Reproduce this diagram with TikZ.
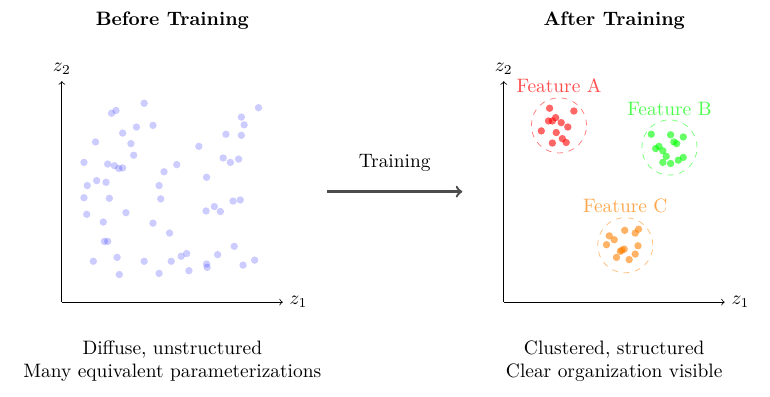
\documentclass[tikz,border=0pt]{standalone}
\usepackage{amsmath}
\usepackage{tikz}
\usetikzlibrary{arrows,positioning}

\begin{document}
\begin{tikzpicture}[
		axis/.style={->, thin},
		dot/.style={circle, inner sep=0pt, minimum size=3.8pt, fill opacity=0.6},
		ring/.style={dashed, thin, draw opacity=0.5},
		flabel/.style={font=\normalsize}
	]
		\useasboundingbox (-1.12,-1.70) rectangle (12.82,5.47);
		% titles
		\node[font=\bfseries] (tb) at (2,5.1) {Before Training};
		\node[font=\bfseries] (ta) at (10,5.1) {After Training};
		% left axes
		\coordinate (o1) at (0,0);
		\coordinate (x1) at (4,0);
		\coordinate (y1) at (0,4);
		\draw[axis] (o1) -- (x1) node[right] {$z_1$};
		\draw[axis] (o1) -- (y1) node[above] {$z_2$};
		\foreach \x/\y in {1.49/3.60, 0.90/3.42, 0.98/3.47, 3.56/3.52, 3.25/3.35, 3.30/3.21,
			1.65/3.20, 1.35/3.17, 1.10/3.06, 2.97/3.04, 3.25/3.02, 0.61/2.90, 1.25/2.87,
			2.48/2.82, 1.30/2.66, 2.92/2.61, 3.05/2.53, 3.20/2.59, 0.40/2.53, 0.83/2.50,
			0.95/2.47, 1.03/2.42, 1.10/2.43, 2.08/2.49, 1.85/2.36, 2.62/2.26, 0.63/2.20,
			0.80/2.17, 0.46/2.11, 1.76/2.11, 0.40/1.89, 0.86/1.88, 1.79/1.87, 3.10/1.83,
			3.23/1.85, 2.76/1.73, 2.61/1.65, 2.87/1.64, 1.16/1.62, 0.45/1.59, 0.75/1.45,
			1.65/1.43, 1.95/1.25, 0.77/1.10, 0.83/1.10, 3.12/1.01, 0.57/0.74, 1.00/0.81,
			1.49/0.74, 1.98/0.74, 2.16/0.83, 2.26/0.88, 2.82/0.86, 2.62/0.69, 2.63/0.63,
			3.28/0.67, 3.49/0.76, 1.04/0.50, 1.76/0.52, 2.30/0.57}
			\node[dot, fill=blue, fill opacity=0.2] at (\x,\y) {};
		\node[align=center] (cl) at (2,-1.07) {Diffuse, unstructured\\Many equivalent parameterizations};
		% arrow
		\coordinate (as) at (4.8,2);
		\coordinate (ae) at (7.25,2);
		\draw[->, very thick, black!70] (as) -- (ae) node[midway, above=0.22cm, black] {Training};
		% right axes
		\begin{scope}[shift={(8,0)}]
			\coordinate (o2) at (0,0);
			\coordinate (x2) at (4,0);
			\coordinate (y2) at (0,4);
			\draw[axis] (o2) -- (x2) node[right] {$z_1$};
			\draw[axis] (o2) -- (y2) node[above] {$z_2$};
			% feature A
			\draw[ring, red] (1,3.2) circle (0.5);
			\node[red!70] (fa) at (1,3.92) {Feature A};
			\foreach \x/\y in {0.83/3.51, 1.27/3.46, 0.81/3.28, 0.88/3.28, 0.94/3.34, 1.04/3.25,
				1.16/3.17, 0.68/3.10, 0.95/3.07, 1.06/2.96, 1.13/2.89, 0.88/2.88}
				\node[dot, fill=red] at (\x,\y) {};
			% feature B
			\draw[ring, green] (3,2.8) circle (0.5);
			\node[green!70] (fb) at (3,3.5) {Feature B};
			\foreach \x/\y in {2.67/3.04, 3.02/3.03, 3.25/2.99, 3.08/2.90, 3.13/2.87, 2.75/2.78,
				2.81/2.82, 2.88/2.74, 2.94/2.64, 3.25/2.62, 3.16/2.57, 2.88/2.53, 3.02/2.51}
				\node[dot, fill=green] at (\x,\y) {};
			% feature C
			\draw[ring, orange] (2.2,1.03) circle (0.5);
			\node[orange!70] (fc) at (2.2,1.74) {Feature C};
			\foreach \x/\y in {2.19/1.30, 2.44/1.32, 2.38/1.25, 1.91/1.20, 2.00/1.13, 1.86/1.04,
				2.43/1.02, 2.18/0.96, 2.14/0.94, 2.11/0.92, 2.38/0.87, 2.04/0.81, 2.27/0.77}
				\node[dot, fill=orange] at (\x,\y) {};
			\node[align=center] (cr) at (2,-1.07) {Clustered, structured\\Clear organization visible};
		\end{scope}
	\end{tikzpicture}
\end{document}
